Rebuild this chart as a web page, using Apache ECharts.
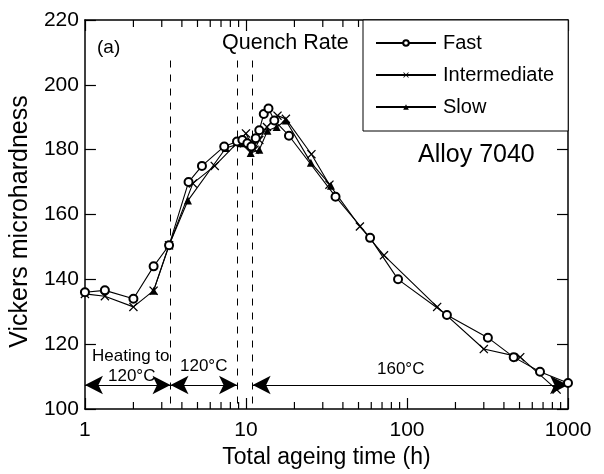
<!DOCTYPE html>
<html><head><meta charset="utf-8">
<script src="https://cdn.jsdelivr.net/npm/echarts@6/dist/echarts.min.js"></script>
<style>html,body{margin:0;padding:0;background:#fff}#c{width:604px;height:474px}</style>
</head><body><div id="c"></div>
<script>
// ---- data ----
const fastTime = [1, 1.33, 2, 2.67, 3.33, 4.4, 5.33, 7.33, 8.8, 9.5, 10.2, 10.8, 11.5, 12.1, 12.9, 13.8, 15, 18.5, 36, 59, 88, 177, 318, 460, 670, 1000];
const fastHV   = [136, 136.6, 134, 144, 150.5, 170, 175, 181, 182.5, 183, 182, 181, 183.5, 186, 191, 192.7, 189, 184.3, 165.5, 152.8, 140, 129, 122, 116, 111.5, 108];
const intTime  = [1, 1.33, 2, 2.67, 3.33, 4.68, 6.4, 8.8, 10, 10.7, 11.3, 12.1, 13.5, 15.7, 17.7, 25.5, 33, 51, 72, 154, 300, 505, 850];
const intHV    = [135.5, 134.8, 131.5, 136.5, 150.5, 169.6, 175, 182, 185, 182, 180, 183, 187, 190.5, 189.5, 178.6, 169.2, 156.3, 147.4, 131.5, 118.5, 116, 106];
const slowTime = [2.67, 3.33, 4.36, 7.5, 9.3, 10.7, 12.1, 13.6, 15.5, 17.7, 25.3, 33.7];
const slowHV   = [136.5, 150.5, 164.3, 180.5, 182, 179, 180, 185.8, 187, 189, 176, 168.9];
const seriesNames = ['Fast', 'Intermediate', 'Slow'];
const xTickLabels = ['1', '10', '100', '1000'];
const yTickValues = [100, 120, 140, 160, 180, 200, 220];
const minorTickValues = [2,3,4,5,6,7,8,9,20,30,40,50,60,70,80,90,200,300,400,500,600,700,800,900];
const phaseBounds = [3.4, 8.8, 11];     // dashed lines (h)
const dashTopHV = 207.5;
const arrowHV = 107.4;
const phaseArrows = [[1, 3.4], [3.4, 8.8], [11, 1000]];

const FF = '"Liberation Sans", Arial, Helvetica, sans-serif';
const zip = (a, b) => a.map((v, i) => [v, b[i]]);
const crossPath = 'path://M0,1 L1,0 L5,4 L9,0 L10,1 L6,5 L10,9 L9,10 L5,6 L1,10 L0,9 L4,5 Z';

const chart = echarts.init(document.getElementById('c'), null, {renderer: 'canvas'});

const axisLine = {show: true, lineStyle: {color: '#000', width: 1.5}};
const xAxisBase = {
  type: 'log', logBase: 10, min: 1, max: 1000,
  axisLine: axisLine,
  axisTick: {show: true, inside: true, length: 11, lineStyle: {color: '#000', width: 1.2}},
  splitLine: {show: false}
};
const yAxisBase = {
  type: 'value', min: 100, max: 220, interval: 20,
  axisLine: axisLine,
  axisTick: {show: true, inside: true, length: 11, lineStyle: {color: '#000', width: 1.2}},
  splitLine: {show: false}
};

const dashData = phaseBounds.map(x => [{coord: [x, dashTopHV]}, {coord: [x, 100]}]);
const arrowData = phaseArrows.map(a => [{coord: [a[0], arrowHV]}, {coord: [a[1], arrowHV]}]);

const option = {
  animation: false,
  backgroundColor: '#fff',
  textStyle: {fontFamily: FF},
  grid: {left: 83, right: 36, top: 20, bottom: 65, containLabel: false},
  legend: {
    orient: 'vertical', left: 363, top: 20,
    itemWidth: 60, itemHeight: 7, itemGap: 12,
    padding: [13, 14, 14, 12],
    borderColor: '#000', borderWidth: 1, backgroundColor: '#fff',
    textStyle: {fontSize: 20, color: '#000', fontFamily: FF, padding: [0, 0, 0, 2]},
    data: seriesNames
  },
  xAxis: [
    Object.assign({}, xAxisBase, {
      position: 'bottom',
      name: 'Total ageing time (h)', nameLocation: 'middle', nameGap: 35,
      nameTextStyle: {fontSize: 23, color: '#000', fontFamily: FF},
      axisLabel: {show: true, fontSize: 21, color: '#000', margin: 11, fontFamily: FF,
        formatter: v => { const s = String(Math.round(v)); return xTickLabels.indexOf(s) >= 0 ? s : ''; }}
    }),
    Object.assign({}, xAxisBase, {position: 'top', axisLabel: {show: false}})
  ],
  yAxis: [
    Object.assign({}, yAxisBase, {
      position: 'left',
      name: 'Vickers microhardness', nameLocation: 'middle', nameGap: 47, nameRotate: 90,
      nameTextStyle: {fontSize: 25, color: '#000', fontFamily: FF, padding: [0, 14, 0, 0]},
      axisLabel: {show: true, fontSize: 21, color: '#000', margin: 6, fontFamily: FF,
        formatter: v => yTickValues.indexOf(v) >= 0 ? String(v) : ''}
    }),
    Object.assign({}, yAxisBase, {position: 'right', axisLabel: {show: false}})
  ],
  series: [
    {
      name: 'Fast', type: 'line', data: zip(fastTime, fastHV),
      symbol: 'emptyCircle', symbolSize: 8, z: 5,
      lineStyle: {color: '#000', width: 1.1}, itemStyle: {color: '#000', borderColor: '#000', borderWidth: 1}
    },
    {
      name: 'Intermediate', type: 'line', data: zip(intTime, intHV),
      symbol: crossPath, symbolSize: 9, z: 4,
      lineStyle: {color: '#000', width: 1.1}, itemStyle: {color: '#000'}
    },
    {
      name: 'Slow', type: 'line', data: zip(slowTime, slowHV),
      symbol: 'triangle', symbolSize: 8, z: 3,
      lineStyle: {color: '#000', width: 1.1}, itemStyle: {color: '#000'}
    },
    {
      type: 'custom', silent: true, z: 2,
      data: minorTickValues.map(v => [v, 100]),
      renderItem: function (params, api) {
        const x = api.value(0);
        const pb = api.coord([x, 100]);
        const pt = api.coord([x, 220]);
        return {type: 'group', children: [
          {type: 'line', shape: {x1: pb[0], y1: pb[1], x2: pb[0], y2: pb[1] - 7}, style: {stroke: '#000', lineWidth: 1.2}},
          {type: 'line', shape: {x1: pt[0], y1: pt[1], x2: pt[0], y2: pt[1] + 7}, style: {stroke: '#000', lineWidth: 1.2}}
        ]};
      }
    },
    {
      type: 'line', data: [], z: 10, silent: true,
      markLine: {silent: true, symbol: 'none', label: {show: false}, animation: false,
        lineStyle: {type: [7, 7], width: 1, color: '#000'}, data: dashData}
    },
    {
      type: 'line', data: [], z: 10, silent: true,
      markLine: {silent: true, symbol: ['arrow', 'arrow'], symbolSize: [14, 18], label: {show: false},
        animation: false, lineStyle: {type: 'solid', width: 1, color: '#000'}, data: arrowData}
    }
  ],
  graphic: [
    {type: 'text', left: 97, top: 38, style: {text: '(a)', font: '19px ' + FF, fill: '#000'}},
    {type: 'text', left: 222, top: 32, style: {text: 'Quench Rate', font: '21.5px ' + FF, fill: '#000'}},
    {type: 'text', left: 418, top: 143, style: {text: 'Alloy 7040', font: '25px ' + FF, fill: '#000'}},
    {type: 'text', left: 92, top: 348, style: {text: 'Heating to', font: '17px ' + FF, fill: '#000'}},
    {type: 'text', left: 108, top: 368, style: {text: '120°C', font: '17px ' + FF, fill: '#000'}},
    {type: 'text', left: 180, top: 358, style: {text: '120°C', font: '17px ' + FF, fill: '#000'}},
    {type: 'text', left: 377, top: 361, style: {text: '160°C', font: '17px ' + FF, fill: '#000'}}
  ]
};
chart.setOption(option);
</script>
</body></html>
